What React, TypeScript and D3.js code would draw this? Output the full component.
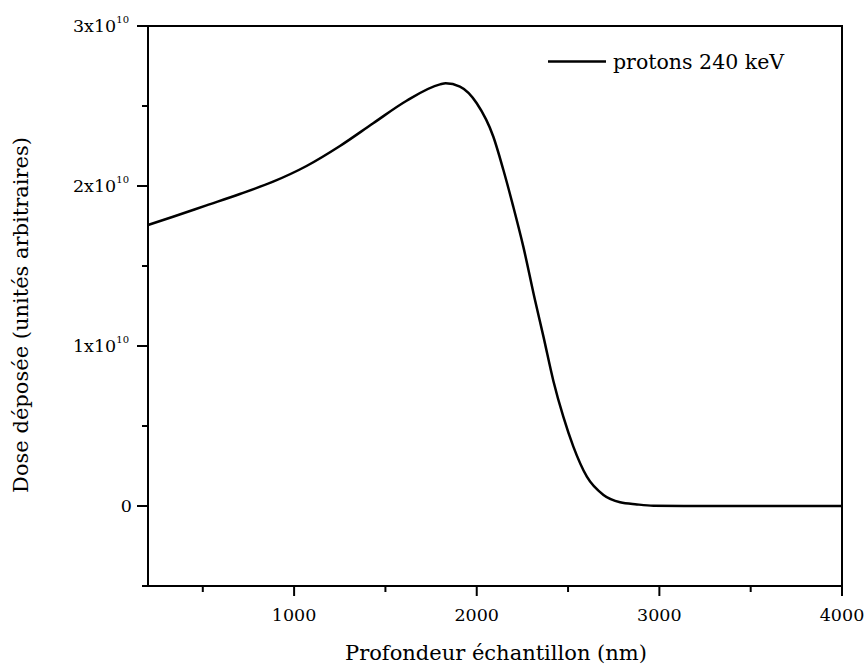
import React from 'react';
import * as d3 from 'd3';

// depth in nm, dose in units of 1e10
const depth = [200, 337, 520, 703, 885, 1068, 1251, 1433, 1616, 1799, 1830, 1908, 2000, 2091, 2146, 2200, 2255, 2319, 2365, 2420, 2474, 2529, 2603, 2694, 2785, 2877, 2968, 3200, 3600, 4000];
const dose = [1.756, 1.808, 1.879, 1.95, 2.027, 2.125, 2.25, 2.392, 2.533, 2.635, 2.642, 2.621, 2.517, 2.308, 2.1, 1.871, 1.621, 1.287, 1.06, 0.78, 0.558, 0.371, 0.183, 0.069, 0.023, 0.01, 0.002, 0.0, 0.0, 0.0];

const xMajorTicks = [1000, 2000, 3000, 4000];
const xMinorTicks = [500, 1500, 2500, 3500];
const yMajorTicks = [0, 1, 2, 3];
const yMinorTicks = [-0.5, 0.5, 1.5, 2.5];

const seriesName = 'protons 240 keV';
const xTitle = 'Profondeur échantillon (nm)';
const yTitle = 'Dose déposée (unités arbitraires)';

const W = 865;
const H = 668;
const margin = { top: 26, right: 23, bottom: 82, left: 148 };
const font = '"DejaVu Serif", serif';

const App: React.FC = () => {
  const innerW = W - margin.left - margin.right;
  const innerH = H - margin.top - margin.bottom;

  const x = d3.scaleLinear().domain([200, 4000]).range([0, innerW]);
  const y = d3.scaleLinear().domain([-0.5, 3]).range([innerH, 0]);

  const points = depth.map((d, i) => [d, dose[i]] as [number, number]);
  const line = d3
    .line<[number, number]>()
    .x(d => x(d[0]))
    .y(d => y(d[1]))
    .curve(d3.curveMonotoneX);

  return (
    <svg
      width={W}
      height={H}
      style={{ position: 'absolute', left: 0, top: 0, background: 'white' }}
      fontFamily={font}
    >
      <g transform={`translate(${margin.left},${margin.top})`}>
        <path d={line(points) ?? ''} fill="none" stroke="#000" strokeWidth={2.5} />

        {/* frame */}
        <rect x={0} y={0} width={innerW} height={innerH} fill="none" stroke="#000" strokeWidth={2} />

        {/* x ticks */}
        {xMajorTicks.map(t => (
          <g key={'xM' + t} transform={`translate(${x(t)},${innerH})`}>
            <line y1={0} y2={10} stroke="#000" strokeWidth={2} />
            <text y={35} textAnchor="middle" fontSize={17.5}>
              {t}
            </text>
          </g>
        ))}
        {xMinorTicks.map(t => (
          <line key={'xm' + t} x1={x(t)} x2={x(t)} y1={innerH} y2={innerH + 6} stroke="#000" strokeWidth={2} />
        ))}

        {/* y ticks */}
        {yMajorTicks.map(t => (
          <g key={'yM' + t} transform={`translate(0,${y(t)})`}>
            <line x1={0} x2={-11} stroke="#000" strokeWidth={2} />
            {t === 0 ? (
              <text x={-16} y={6} textAnchor="end" fontSize={17.5}>
                0
              </text>
            ) : (
              <text x={-19} y={6} textAnchor="end" fontSize={17.5}>
                {`${t}x10`}
                <tspan fontSize={10} dy={-9}>
                  10
                </tspan>
              </text>
            )}
          </g>
        ))}
        {yMinorTicks.map(t => (
          <line key={'ym' + t} x1={0} x2={-6} y1={y(t)} y2={y(t)} stroke="#000" strokeWidth={2} />
        ))}

        {/* legend */}
        <line x1={400} x2={458} y1={35.5} y2={35.5} stroke="#000" strokeWidth={2.5} />
        <text x={465} y={43} fontSize={20.5}>
          {seriesName}
        </text>
      </g>

      <text x={margin.left + innerW / 2 + 1} y={660} textAnchor="middle" fontSize={21}>
        {xTitle}
      </text>
      <text transform={`translate(28,315) rotate(-90)`} textAnchor="middle" fontSize={21}>
        {yTitle}
      </text>
    </svg>
  );
};

export default App;
